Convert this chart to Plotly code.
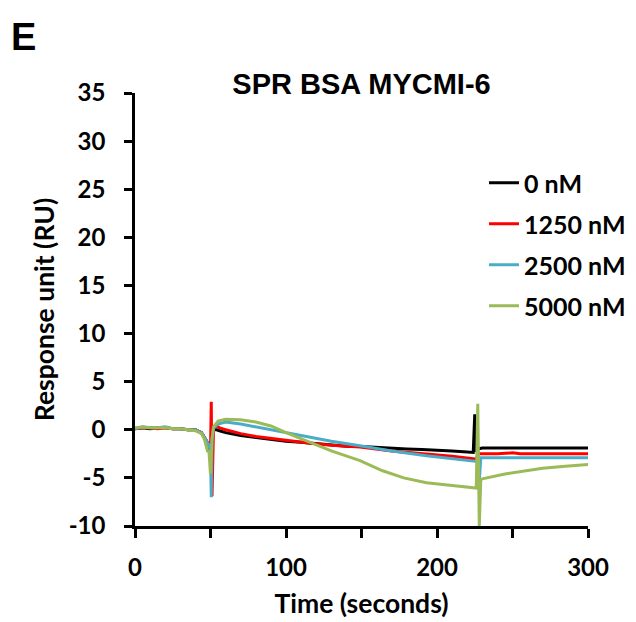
import plotly.graph_objects as go

# ---- data ----
t_0 = [0, 5, 10, 15, 20, 25, 30, 35, 40, 44, 46, 48, 49, 50, 51, 52, 54, 56, 60, 70, 80, 90, 100, 110, 120, 130, 140,
       150, 160, 170, 180, 190, 200, 210, 220, 224, 225, 226, 227, 230, 240, 250, 260, 270, 280, 290, 300]
v_0 = [0.1, 0.2, 0.1, 0.2, 0.2, 0.1, 0.1, 0.0, 0.0, -0.3, -0.8, -1.3, -1.6, -2.4, -0.5, 0.0, 0.0, -0.1, -0.3, -0.6,
       -0.8, -1.0, -1.2, -1.3, -1.45, -1.6, -1.7, -1.75, -1.85, -1.95, -2.0, -2.05, -2.1, -2.2, -2.3, -2.35, 1.6, -2.3,
       -2.0, -1.9, -1.9, -1.9, -1.9, -1.9, -1.9, -1.9, -1.9]

t_1250 = [0, 5, 10, 15, 20, 25, 30, 35, 40, 44, 46, 48, 49, 50, 50.5, 51, 52, 54, 56, 60, 70, 80, 90, 100, 116, 130,
          149, 170, 193, 210, 224, 226, 227, 228, 230, 240, 250, 255, 260, 270, 280, 290, 300]
v_1250 = [0.1, 0.2, 0.2, 0.1, 0.2, 0.1, 0.1, 0.0, 0.0, -0.3, -0.8, -1.3, -1.6, -2.2, 2.9, -6.9, 0.2, 0.4, 0.2, 0.0,
          -0.4, -0.7, -0.9, -1.1, -1.4, -1.6, -1.8, -2.2, -2.5, -2.75, -3.0, -3.05, -2.6, -2.5, -2.5, -2.5, -2.4,
          -2.5, -2.5, -2.5, -2.5, -2.5, -2.5]

t_2500 = [0, 5, 10, 15, 20, 25, 30, 35, 40, 44, 46, 48, 49, 50, 50.5, 51, 52, 55, 60, 70, 80, 90, 100, 110, 120, 130,
          149, 170, 193, 210, 224, 226, 227, 228, 229, 230, 240, 250, 260, 270, 280, 290, 300]
v_2500 = [0.1, 0.3, 0.2, 0.2, 0.3, 0.1, 0.1, 0.0, 0.0, -0.3, -0.8, -1.3, -1.6, -2.2, -7.0, -1.0, 0.2, 0.6, 0.8, 0.6,
          0.3, 0.0, -0.3, -0.6, -0.9, -1.2, -1.66, -2.2, -2.7, -3.0, -3.3, -3.35, -3.3, -5.3, -2.9, -2.9, -2.9,
          -2.9, -2.9, -2.9, -2.9, -2.9, -2.9]

t_5000 = [0, 5, 10, 15, 20, 25, 30, 35, 40, 44, 46, 48, 49, 50, 51, 52, 55, 60, 70, 80, 90, 100, 110, 116, 130, 149,
          164, 178, 193, 210, 224, 226, 227, 228, 229, 230, 245, 257, 270, 285, 300]
v_5000 = [0.2, 0.3, 0.2, 0.2, 0.2, 0.1, 0.1, 0.0, -0.1, -0.4, -1.0, -2.2, -2.3, -4.6, -1.0, 0.3, 0.9, 1.1, 1.05, 0.8,
          0.4, -0.3, -0.95, -1.35, -2.2, -3.2, -4.26, -5.0, -5.5, -5.8, -6.0, -6.05, 2.7, -10.0, -5.2, -5.1, -4.6,
          -4.3, -4.0, -3.8, -3.6]

series = [
    ("0 nM", t_0, v_0, "#000000"),
    ("1250 nM", t_1250, v_1250, "#ff0000"),
    ("2500 nM", t_2500, v_2500, "#4bacc6"),
    ("5000 nM", t_5000, v_5000, "#9bbb59"),
]

x_ticks = [0, 50, 100, 150, 200, 250, 300]
x_tick_text = ["0", "", "100", "", "200", "", "300"]
y_ticks = [-10, -5, 0, 5, 10, 15, 20, 25, 30, 35]
y_tick_text = ["-10", "-5", "0", "5", "10", "15", "20", "25", "30", "35"]

fig = go.Figure()
for i, (name, t, v, c) in enumerate(series):
    fig.add_trace(go.Scatter(x=t, y=v, mode="lines", name=name, legendgroup=f"g{i}",
                             line=dict(color=c, width=3)))

L, R, T, B = 135, 48, 93, 96
PW, PH = 636 - L - R, 622 - T - B

tick_font = dict(family="Lato", size=24, color="black", weight="bold")
title_font = dict(family="Lato", size=26.5, color="black", weight="bold")
fig.update_layout(
    width=636, height=622,
    margin=dict(l=L, r=R, t=T, b=B, autoexpand=False),
    plot_bgcolor="white", paper_bgcolor="white",
    showlegend=True,
    legend=dict(x=(484 - L) / PW, y=(622 - B - 160) / PH, xanchor="left", yanchor="top",
                bgcolor="rgba(0,0,0,0)",
                font=dict(family="Lato", size=25, color="black", weight="bold"),
                tracegroupgap=5.5, itemwidth=30),
    title=dict(text="<b>SPR BSA MYCMI-6</b>", x=(L + PW / 2) / 636, xanchor="center", y=1 - 84 / 622,
               yanchor="middle", font=dict(family="Liberation Sans", size=29, color="black")),
    xaxis=dict(range=[0, 300], tickvals=x_ticks, ticktext=x_tick_text, ticks="outside", ticklen=9, tickwidth=2.5,
               tickcolor="black", showline=True, linecolor="black", linewidth=2.5, showgrid=False, zeroline=False,
               tickfont=tick_font, ticklabelstandoff=9, automargin=False,
               title=dict(text="Time (seconds)", font=title_font, standoff=15)),
    yaxis=dict(range=[-10, 35], tickvals=y_ticks, ticktext=y_tick_text, ticks="outside", ticklen=8, tickwidth=2.5,
               tickcolor="black", showline=True, linecolor="black", linewidth=2.5, showgrid=False, zeroline=False,
               tickfont=tick_font, ticklabelstandoff=14, automargin=False,
               title=dict(text="Response unit (RU)", font=title_font, standoff=7)),
    annotations=[dict(text="<b>E</b>", x=(9 - L) / PW, y=1 + (T - 14) / PH, xref="paper", yref="paper",
                      xanchor="left", yanchor="top", showarrow=False,
                      font=dict(family="Liberation Sans", size=38, color="black"))],
)

fig.write_html("out.html")
